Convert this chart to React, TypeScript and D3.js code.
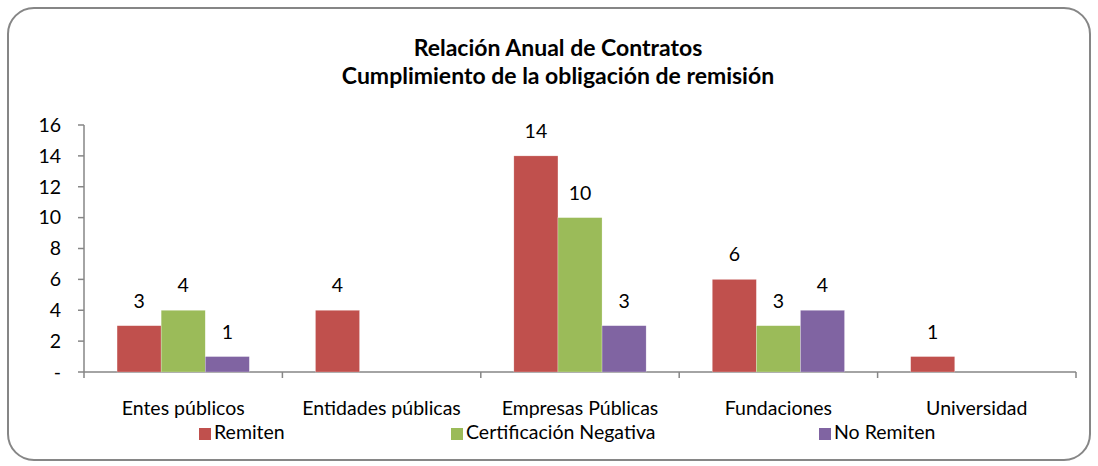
import React from 'react';
import * as d3 from 'd3';

const categories = ['Entes públicos', 'Entidades públicas', 'Empresas Públicas', 'Fundaciones', 'Universidad'];
const seriesNames = ['Remiten', 'Certificación Negativa', 'No Remiten'];
const seriesColors = ['#C0504D', '#9BBB59', '#8064A2'];
const remiten = [3, 4, 14, 6, 1];
const certificacion = [4, null, 10, 3, null];
const noRemiten = [1, null, 3, 4, null];
const yTicks = [0, 2, 4, 6, 8, 10, 12, 14, 16];
const titleLines = ['Relación Anual de Contratos', 'Cumplimiento de la obligación de remisión'];

const FONT = 'Lato, "Liberation Sans", sans-serif';

const App = () => {
  const width = 1098;
  const height = 466;
  const values = [remiten, certificacion, noRemiten];

  const x = d3.scaleBand().domain(categories).range([84, 1076]).padding(0);
  const inner = d3.scaleBand().domain(seriesNames).range([0, x.bandwidth()]).paddingInner(0).paddingOuter(0.75);
  const y = d3.scaleLinear().domain([0, 16]).range([372, 125]);

  const boundaries = categories.map(c => x(c)).concat([x.range()[1]]);
  const legendX = [199, 451, 819];

  return (
    <svg width={width} height={height} style={{ position: 'absolute', left: 0, top: 0 }}>
      <rect x={8} y={8} width={1082} height={452} rx={26} ry={26} fill="#fff" stroke="#868686" strokeWidth={2} />
      {titleLines.map((t, i) => (
        <text key={t} x={558} y={56 + i * 28} textAnchor="middle" fontFamily={FONT} fontWeight="bold" fontSize={23} fill="#000">{t}</text>
      ))}
      {/* y axis */}
      <line x1={84} x2={84} y1={125} y2={372} stroke="#868686" strokeWidth={1.5} />
      {yTicks.map(t => (
        <g key={t}>
          <line x1={78} x2={84} y1={y(t)} y2={y(t)} stroke="#868686" strokeWidth={1.5} />
          <text x={61} y={y(t)} dy="0.35em" textAnchor="end" fontFamily={FONT} fontSize={19.5} fill="#000">{t === 0 ? '-' : t}</text>
        </g>
      ))}
      {/* x axis */}
      <line x1={84} x2={1076} y1={372} y2={372} stroke="#868686" strokeWidth={1.5} />
      {boundaries.map((b, i) => (
        <line key={i} x1={b} x2={b} y1={372} y2={378} stroke="#868686" strokeWidth={1.5} />
      ))}
      {/* bars */}
      {values.map((vals, si) => vals.map((v, ci) => {
        if (v == null) return null;
        const bx = x(categories[ci]) + inner(seriesNames[si]);
        return (
          <g key={si + '-' + ci}>
            <rect x={bx} y={y(v)} width={inner.bandwidth()} height={y(0) - y(v)} fill={seriesColors[si]} stroke="#fff" strokeOpacity={0.5} strokeWidth={0.5} />
            <text x={bx + inner.bandwidth() / 2} y={y(v) - 18} textAnchor="middle" fontFamily={FONT} fontSize={19.5} fill="#000">{v}</text>
          </g>
        );
      }))}
      {categories.map(c => (
        <text key={c} x={x(c) + x.bandwidth() / 2} y={415} textAnchor="middle" fontFamily={FONT} fontSize={19.5} fill="#000">{c}</text>
      ))}
      {/* legend */}
      {seriesNames.map((s, i) => (
        <g key={s}>
          <rect x={legendX[i]} y={428} width={12} height={12} fill={seriesColors[i]} />
          <text x={legendX[i] + 15} y={439} fontFamily={FONT} fontSize={19.5} fill="#000">{s}</text>
        </g>
      ))}
    </svg>
  );
};

export default App;
